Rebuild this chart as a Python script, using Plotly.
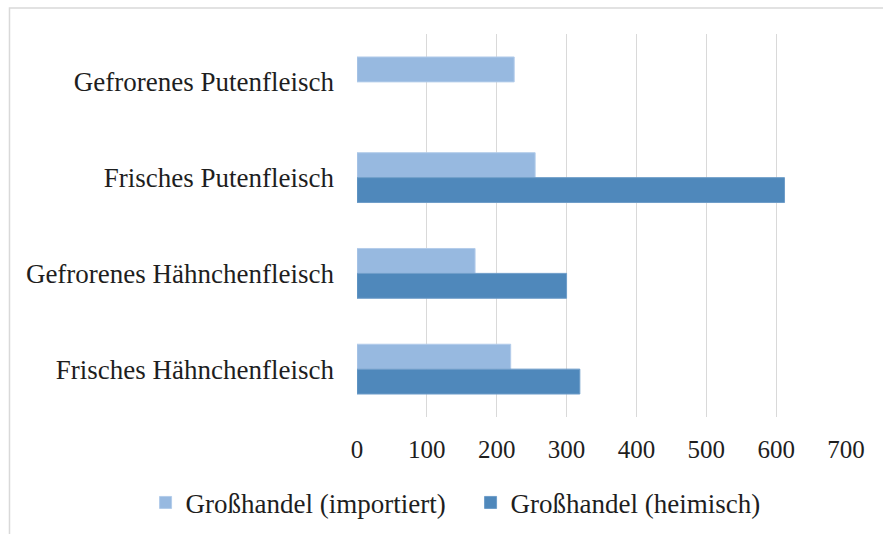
import plotly.graph_objects as go

# Categories listed top to bottom
categories = [
    "Gefrorenes Putenfleisch",
    "Frisches Putenfleisch",
    "Gefrorenes Hähnchenfleisch",
    "Frisches Hähnchenfleisch",
]
importiert = [225, 255, 169, 220]
heimisch = [None, 612, 300, 319]
x_ticks = [0, 100, 200, 300, 400, 500, 600, 700]

FONT = "Liberation Serif"
TEXT = "#1E1E1E"
LIGHT = "#97B9E0"
DARK = "#4F88BB"

fig = go.Figure()
fig.add_trace(go.Bar(
    y=categories, x=importiert, orientation="h",
    name="Großhandel (importiert)",
    marker=dict(color=LIGHT, line=dict(color="#B3CCEA", width=1)),
))
fig.add_trace(go.Bar(
    y=categories, x=heimisch, orientation="h",
    name="Großhandel (heimisch)",
    marker=dict(color=DARK, line=dict(color="#6E9DC9", width=1)),
))

# Plot area in page pixels
L, R, T, B = 357.3, 846.0, 33.5, 417.0
W, H = R - L, B - T
def px_x(p):
    return (p - L) / W
def px_y(p):
    return (B - p) / H

# Outer frame (only top and left edges fall inside the page)
fig.add_shape(type="rect", xref="paper", yref="paper",
              x0=px_x(10), x1=px_x(900), y0=px_y(560), y1=px_y(7.5),
              line=dict(color="#D9D9D9", width=1.5), fillcolor="rgba(0,0,0,0)",
              layer="below")

fig.update_layout(
    width=883, height=534,
    margin=dict(l=L, r=883 - R, t=T, b=534 - B, pad=0, autoexpand=False),
    paper_bgcolor="white", plot_bgcolor="white",
    barmode="group", bargap=0.48, bargroupgap=0,
    font=dict(family=FONT, size=27, color=TEXT),
    showlegend=True,
    legend=dict(
        orientation="h", xref="paper", yref="paper",
        x=px_x(146), xanchor="left", y=px_y(503), yanchor="middle",
        font=dict(family=FONT, size=27, color=TEXT),
        entrywidth=280, entrywidthmode="pixels",
        bgcolor="rgba(0,0,0,0)",
    ),
    xaxis=dict(
        range=[0, 700], tickvals=x_ticks, ticktext=[str(v) for v in x_ticks],
        showgrid=True, gridcolor="#D9D9D9", gridwidth=1,
        zeroline=False, showline=False,
        ticks="outside", ticklen=10, tickcolor="rgba(0,0,0,0)",
        tickfont=dict(family=FONT, size=25, color=TEXT),
        fixedrange=True,
    ),
    yaxis=dict(
        categoryorder="array", categoryarray=categories,
        autorange="reversed",
        showgrid=False, zeroline=False, showline=False,
        ticks="", ticklabelstandoff=22,
        tickfont=dict(family=FONT, size=27, color=TEXT),
        fixedrange=True,
    ),
)

fig.write_html("out.html")
